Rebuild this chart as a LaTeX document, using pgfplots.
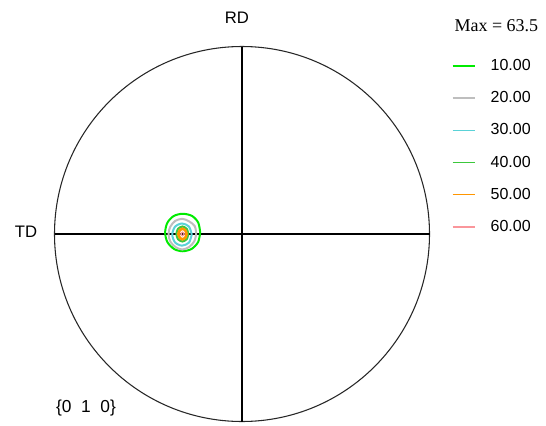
\documentclass[border=0pt]{standalone}
\usepackage{pgfplots}
\pgfplotsset{compat=1.18}
\usepackage{fontspec}
\setmainfont{Liberation Sans}
\newfontfamily\maxfont{Liberation Serif}

\definecolor{lvlA}{RGB}{0,235,0}
\definecolor{lvlB}{RGB}{190,190,190}
\definecolor{lvlC}{RGB}{90,210,215}
\definecolor{lvlD}{RGB}{60,200,60}
\definecolor{lvlE}{RGB}{255,150,0}
\definecolor{lvlF}{RGB}{250,150,155}

\begin{document}
\begin{tikzpicture}
\useasboundingbox (0pt,0pt) rectangle (409.5pt,-318.75pt);
\begin{axis}[
  at={(181.5pt,-175.5pt)}, anchor=center,
  scale only axis, width=281.25pt, height=281.25pt,
  xmin=-1, xmax=1, ymin=-1, ymax=1,
  hide axis, clip=false,
  legend cell align=left,
  legend image code/.code={\draw[#1] (0pt,0pt) -- (17pt,0pt);},
  legend image post style={line width=1.1pt},
  legend style={draw=none, fill=none, at={(1.059,0.974)}, anchor=north west,
    font=\fontsize{12}{14}\selectfont, inner sep=0pt, row sep=10.3pt, column sep=9pt},
]
% reference frame of the pole figure
\draw[black!85, line width=0.8pt] (axis cs:0,0) circle[radius=1];
\draw[black, line width=0.95pt] (axis cs:0,-1) -- (axis cs:0,1);
\draw[black, line width=0.95pt] (axis cs:-1,0) -- (axis cs:1,0);

% intensity contours, levels 10 ... 60
\addplot[color=lvlA, line width=1.5pt, smooth] coordinates {
  (-0.223,0.008) (-0.233,0.060) (-0.266,0.096) (-0.316,0.108) (-0.364,0.096)
  (-0.398,0.060) (-0.410,0.008) (-0.398,-0.043) (-0.362,-0.080) (-0.316,-0.092)
  (-0.268,-0.079) (-0.234,-0.043) (-0.223,0.008)};
\addlegendentry{10.00}
\addplot[color=lvlB, line width=1.5pt, smooth] coordinates {
  (-0.244,0.000) (-0.252,0.042) (-0.283,0.068) (-0.318,0.081) (-0.356,0.070)
  (-0.383,0.038) (-0.392,0.000) (-0.382,-0.041) (-0.354,-0.070) (-0.318,-0.083)
  (-0.280,-0.068) (-0.254,-0.038) (-0.244,0.000)};
\addlegendentry{20.00}
\addplot[color=lvlC, line width=1.5pt, smooth] coordinates {
  (-0.268,-0.003) (-0.283,0.040) (-0.320,0.056) (-0.357,0.039) (-0.372,-0.003)
  (-0.357,-0.045) (-0.320,-0.062) (-0.283,-0.046) (-0.268,-0.003)};
\addlegendentry{30.00}
\addplot[color=lvlD, line width=1.5pt, smooth] coordinates {
  (-0.286,0.000) (-0.295,0.028) (-0.318,0.040) (-0.341,0.028) (-0.350,0.000)
  (-0.341,-0.028) (-0.318,-0.040) (-0.295,-0.028) (-0.286,0.000)};
\addlegendentry{40.00}
\addplot[color=lvlE, line width=2pt, smooth] coordinates {
  (-0.295,0.000) (-0.302,0.019) (-0.317,0.028) (-0.332,0.019) (-0.339,0.000)
  (-0.332,-0.019) (-0.317,-0.028) (-0.302,-0.019) (-0.295,0.000)};
\addlegendentry{50.00}
\addplot[color=lvlF, line width=1pt, smooth] coordinates {
  (-0.308,0.000) (-0.317,0.010) (-0.326,0.000) (-0.317,-0.010) (-0.308,0.000)};
\addlegendentry{60.00}

% labels
\node[font=\fontsize{12.5}{14}\selectfont] at (axis cs:-0.027,1.152) {RD};
\node[font=\fontsize{12.5}{14}\selectfont] at (axis cs:-1.152,0.013) {TD};
\node[font=\fontsize{13}{15}\selectfont] at (axis cs:-0.832,-0.928) {\{0\ \ 1\ \ 0\}};
\node[font=\maxfont\fontsize{13.5}{15}\selectfont] at (axis cs:1.357,1.109) {Max = 63.5};
\end{axis}
\end{tikzpicture}
\end{document}
